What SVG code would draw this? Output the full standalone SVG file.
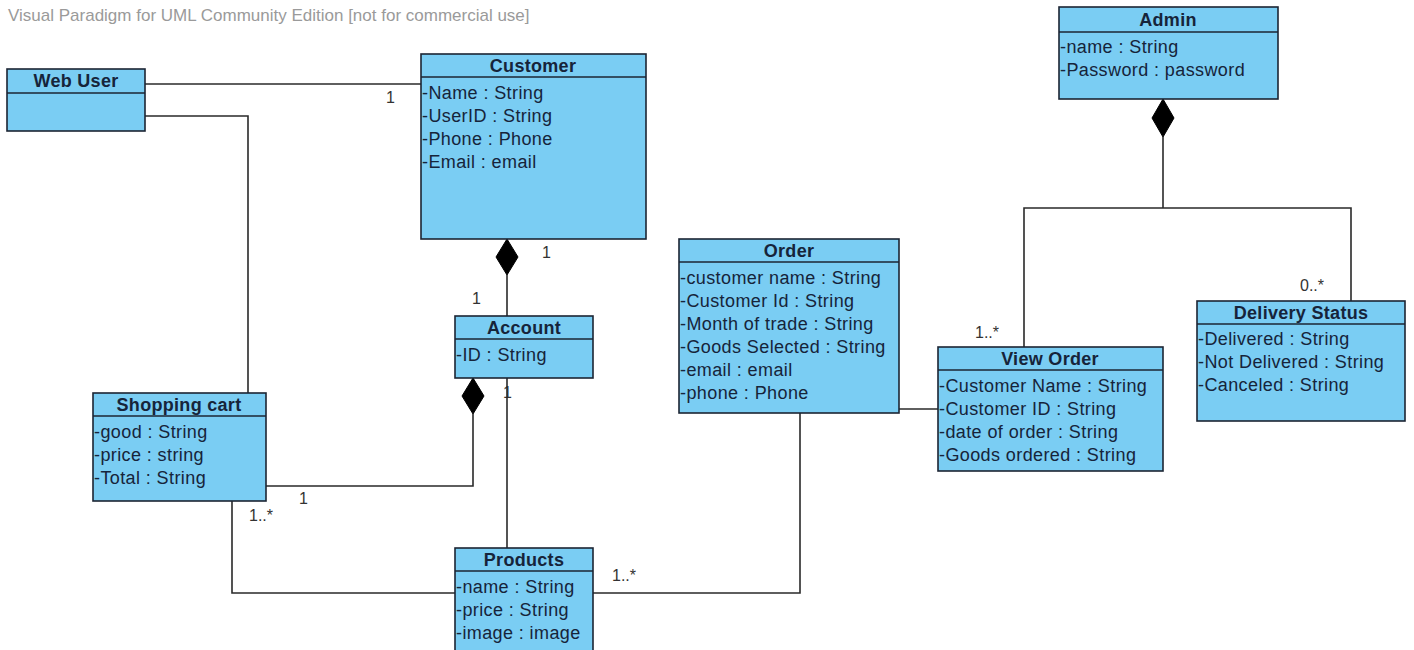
<svg xmlns="http://www.w3.org/2000/svg" width="1414" height="650" viewBox="0 0 1414 650">
<style>
.box{fill:#7acdf3;stroke:#1c2533;stroke-width:1.6}
.sep{stroke:#1c2533;stroke-width:1.6}
.title{font-family:"Liberation Sans",Arial,sans-serif;font-size:18px;font-weight:bold;fill:#16243a;text-anchor:middle;letter-spacing:0.3px}
.attr{font-family:"Liberation Sans",Arial,sans-serif;font-size:18px;fill:#16243a;letter-spacing:0.4px}
.edge{fill:none;stroke:#2a2a2a;stroke-width:1.6}
.dia{fill:#000;stroke:#000;stroke-width:1}
.lbl{font-family:"Liberation Sans",Arial,sans-serif;font-size:16px;fill:#333}
.wm{font-family:"Liberation Sans",Arial,sans-serif;font-size:17px;fill:#9a9a9a}
</style>
<rect width="1414" height="650" fill="#fff"/>
<text class="wm" x="8" y="21">Visual Paradigm for UML Community Edition [not for commercial use]</text>

<g id="connectors">
  <text class="lbl" x="386" y="103">1</text>
  <text class="lbl" x="542" y="258">1</text>
  <text class="lbl" x="472" y="304">1</text>
  <text class="lbl" x="503" y="398">1</text>
  <text class="lbl" x="299" y="504">1</text>
  <text class="lbl" x="249" y="521">1..*</text>
  <text class="lbl" x="612" y="581">1..*</text>
  <text class="lbl" x="975" y="338">1..*</text>
  <text class="lbl" x="1300" y="291">0..*</text>
  <path class="edge" d="M145,84 H421"/>
  <path class="edge" d="M145,116 H248 V393"/>
  <path class="edge" d="M507,275 V316"/>
  <polygon class="dia" points="507,239 518,257 507,275 496,257"/>
  <path class="edge" d="M473,414 V486 H266"/>
  <polygon class="dia" points="473,378 484,396 473,414 462,396"/>
  <path class="edge" d="M507,378 V548"/>
  <path class="edge" d="M232,501 V593 H455"/>
  <path class="edge" d="M593,593 H800 V413"/>
  <path class="edge" d="M899,409 H938"/>
  <path class="edge" d="M1163,137 V208"/>
  <polygon class="dia" points="1163,99 1174,118 1163,137 1152,118"/>
  <path class="edge" d="M1024,347 V208 H1351 V301"/>
</g>

<g id="web-user">
  <rect class="box" x="7" y="69" width="138" height="62"/>
  <line class="sep" x1="7" y1="93" x2="145" y2="93"/>
  <text class="title" x="76" y="87">Web User</text>
</g>

<g id="customer">
  <rect class="box" x="421" y="54" width="225" height="185"/>
  <line class="sep" x1="421" y1="77" x2="646" y2="77"/>
  <text class="title" x="533" y="72">Customer</text>
  <text class="attr" x="422" y="99">-Name : String</text>
  <text class="attr" x="422" y="122">-UserID : String</text>
  <text class="attr" x="422" y="145">-Phone : Phone</text>
  <text class="attr" x="422" y="168">-Email : email</text>
</g>

<g id="account">
  <rect class="box" x="455" y="316" width="138" height="62"/>
  <line class="sep" x1="455" y1="339" x2="593" y2="339"/>
  <text class="title" x="524" y="334">Account</text>
  <text class="attr" x="456" y="361">-ID : String</text>
</g>

<g id="shopping-cart">
  <rect class="box" x="93" y="393" width="173" height="108"/>
  <line class="sep" x1="93" y1="416" x2="266" y2="416"/>
  <text class="title" x="179" y="411">Shopping cart</text>
  <text class="attr" x="94" y="438">-good : String</text>
  <text class="attr" x="94" y="461">-price : string</text>
  <text class="attr" x="94" y="484">-Total : String</text>
</g>

<g id="products">
  <rect class="box" x="455" y="548" width="138" height="112"/>
  <line class="sep" x1="455" y1="571" x2="593" y2="571"/>
  <text class="title" x="524" y="566">Products</text>
  <text class="attr" x="456" y="593">-name : String</text>
  <text class="attr" x="456" y="616">-price : String</text>
  <text class="attr" x="456" y="639">-image : image</text>
</g>

<g id="order">
  <rect class="box" x="679" y="239" width="220" height="174"/>
  <line class="sep" x1="679" y1="262" x2="899" y2="262"/>
  <text class="title" x="789" y="257">Order</text>
  <text class="attr" x="680" y="284">-customer name : String</text>
  <text class="attr" x="680" y="307">-Customer Id : String</text>
  <text class="attr" x="680" y="330">-Month of trade : String</text>
  <text class="attr" x="680" y="353">-Goods Selected : String</text>
  <text class="attr" x="680" y="376">-email : email</text>
  <text class="attr" x="680" y="399">-phone : Phone</text>
</g>

<g id="view-order">
  <rect class="box" x="938" y="347" width="225" height="124"/>
  <line class="sep" x1="938" y1="370" x2="1163" y2="370"/>
  <text class="title" x="1050" y="365">View Order</text>
  <text class="attr" x="939" y="392">-Customer Name : String</text>
  <text class="attr" x="939" y="415">-Customer ID : String</text>
  <text class="attr" x="939" y="438">-date of order : String</text>
  <text class="attr" x="939" y="461">-Goods ordered : String</text>
</g>

<g id="admin">
  <rect class="box" x="1059" y="7" width="219" height="92"/>
  <line class="sep" x1="1059" y1="32" x2="1278" y2="32"/>
  <text class="title" x="1168" y="26">Admin</text>
  <text class="attr" x="1060" y="53">-name : String</text>
  <text class="attr" x="1060" y="76">-Password : password</text>
</g>

<g id="delivery-status">
  <rect class="box" x="1197" y="301" width="208" height="120"/>
  <line class="sep" x1="1197" y1="324" x2="1405" y2="324"/>
  <text class="title" x="1301" y="319">Delivery Status</text>
  <text class="attr" x="1198" y="345">-Delivered : String</text>
  <text class="attr" x="1198" y="368">-Not Delivered : String</text>
  <text class="attr" x="1198" y="391">-Canceled : String</text>
</g>
</svg>
